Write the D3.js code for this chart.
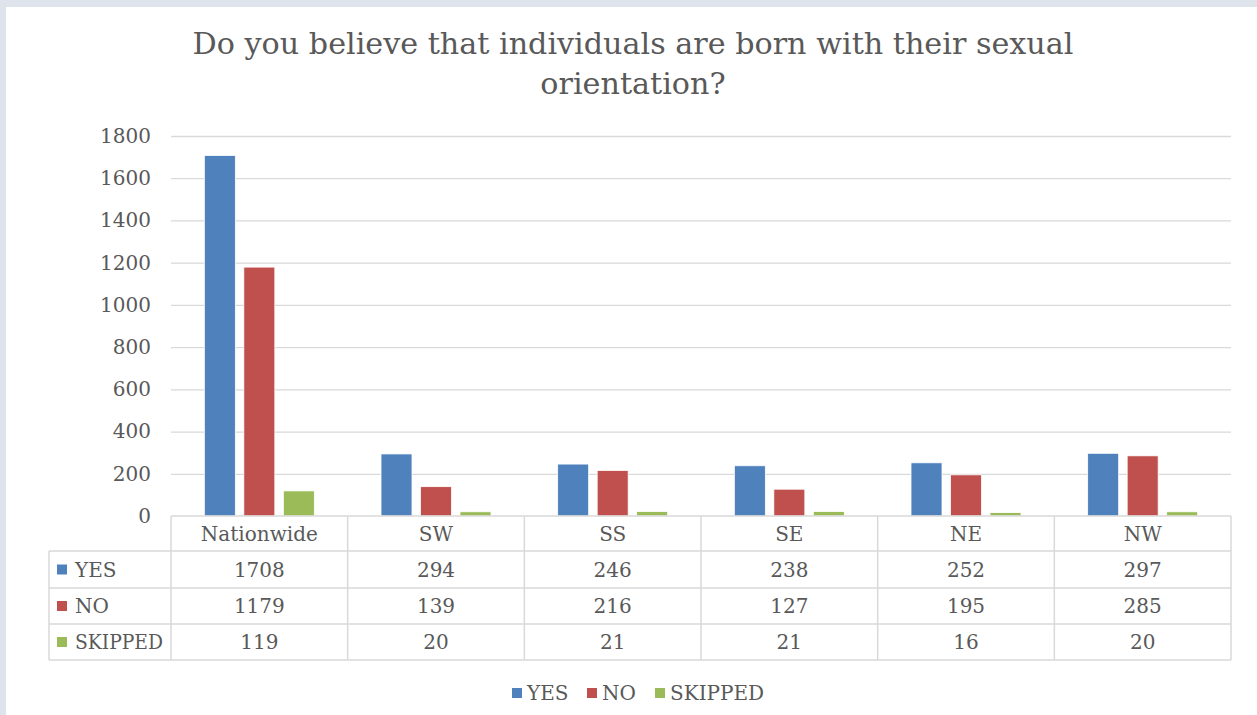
<!DOCTYPE html>
<html><head><meta charset="utf-8">
<script src="https://cdn.jsdelivr.net/npm/d3@7"></script>
<style>body{margin:0;background:#dfe3ec;} svg{display:block;}</style>
</head><body>
<svg id="c" width="1257" height="715"></svg>
<script>
const categories = ["Nationwide","SW","SS","SE","NE","NW"];
const seriesNames = ["YES","NO","SKIPPED"];
const yesValues = [1708,294,246,238,252,297];
const noValues = [1179,139,216,127,195,285];
const skippedValues = [119,20,21,21,16,20];
const yTicks = [0,200,400,600,800,1000,1200,1400,1600,1800];
const titleLines = ["Do you believe that individuals are born with their sexual","orientation?"];
const colors = ["#4f81bd","#c0504d","#9bbb59"];
const series = [yesValues, noValues, skippedValues];

const svg = d3.select("#c");
const font = "'DejaVu Serif', serif";
const textColor = "#595959";
const gridColor = "#d9d9d9";
const fs = 20;

svg.append("rect").attr("x",6).attr("y",7).attr("width",1251).attr("height",708).attr("fill","#fff");

const pLeft=171, pRight=1231, pTop=136, pBottom=516;
const x = d3.scaleBand().domain(categories).range([pLeft,pRight]);
const y = d3.scaleLinear().domain([0,1800]).range([pBottom,pTop]);
const inner = d3.scaleBand().domain(seriesNames).range([0,x.bandwidth()]).paddingInner(0.215).paddingOuter(0.844);

// title
svg.append("g").selectAll("text").data(titleLines).join("text")
  .attr("x",633).attr("y",(d,i)=>54+i*40).attr("text-anchor","middle")
  .attr("font-family",font).attr("font-size",30.2).attr("fill",textColor).text(d=>d);

// grid
svg.append("g").selectAll("line").data(yTicks.filter(t=>t>0)).join("line")
  .attr("x1",pLeft).attr("x2",pRight).attr("y1",d=>y(d)+0.5).attr("y2",d=>y(d)+0.5)
  .attr("stroke",gridColor).attr("stroke-width",1.3);

// y axis
const yAxis = d3.axisLeft(y).tickValues(yTicks).tickFormat(d3.format("d")).tickSize(0).tickPadding(20);
const ga = svg.append("g").attr("transform",`translate(${pLeft},0)`).call(yAxis);
ga.select(".domain").remove();
ga.selectAll("text").attr("font-family",font).attr("font-size",fs).attr("fill",textColor);

// bars
series.forEach((vals,si)=>{
  svg.append("g").selectAll("rect").data(vals).join("rect")
    .attr("x",(d,i)=>x(categories[i])+inner(seriesNames[si]))
    .attr("width",inner.bandwidth())
    .attr("y",d=>y(d)).attr("height",d=>pBottom-y(d))
    .attr("fill",colors[si]).attr("stroke","#fff").attr("stroke-width",0.8);
});

// data table
const rowY = [516,551,588,624,660];
const tableLeft = 49;
const tg = svg.append("g");
const lineStyle = sel=>sel.attr("stroke",gridColor).attr("stroke-width",1.5);
tg.append("line").attr("x1",pLeft).attr("x2",pRight).attr("y1",rowY[0]).attr("y2",rowY[0]).call(lineStyle);
rowY.slice(1).forEach(yy=>tg.append("line").attr("x1",tableLeft).attr("x2",pRight).attr("y1",yy).attr("y2",yy).call(lineStyle));
tg.append("line").attr("x1",tableLeft).attr("x2",tableLeft).attr("y1",rowY[1]).attr("y2",rowY[4]).call(lineStyle);
const vx = categories.map(c=>x(c)).concat([pRight]);
vx.forEach(xx=>tg.append("line").attr("x1",xx).attr("x2",xx).attr("y1",rowY[0]).attr("y2",rowY[4]).call(lineStyle));

tg.selectAll("text.h").data(categories).join("text").attr("class","h")
  .attr("x",d=>x(d)+x.bandwidth()/2).attr("y",(rowY[0]+rowY[1])/2+7)
  .attr("text-anchor","middle").attr("font-family",font).attr("font-size",fs).attr("fill",textColor).text(d=>d);

series.forEach((vals,si)=>{
  const cy=(rowY[si+1]+rowY[si+2])/2;
  tg.append("rect").attr("x",57).attr("y",cy-5).attr("width",10).attr("height",10).attr("fill",colors[si]);
  const lt = tg.append("text").attr("x",75).attr("y",cy+7).attr("font-family",font).attr("font-size",fs).attr("fill",textColor).text(seriesNames[si]);
  if (seriesNames[si]==="SKIPPED") lt.attr("textLength",88).attr("lengthAdjust","spacingAndGlyphs");
  tg.selectAll(null).data(vals).join("text")
    .attr("x",(d,i)=>x(categories[i])+x.bandwidth()/2).attr("y",cy+7)
    .attr("text-anchor","middle").attr("font-family",font).attr("font-size",fs).attr("fill",textColor).text(d=>d);
});

// bottom legend
const legX=[512,587,655];
const lg = svg.append("g");
seriesNames.forEach((n,i)=>{
  lg.append("rect").attr("x",legX[i]).attr("y",688).attr("width",10).attr("height",10).attr("fill",colors[i]);
  lg.append("text").attr("x",legX[i]+15).attr("y",700).attr("font-family",font).attr("font-size",fs).attr("fill",textColor).text(n);
});
</script>
</body></html>
